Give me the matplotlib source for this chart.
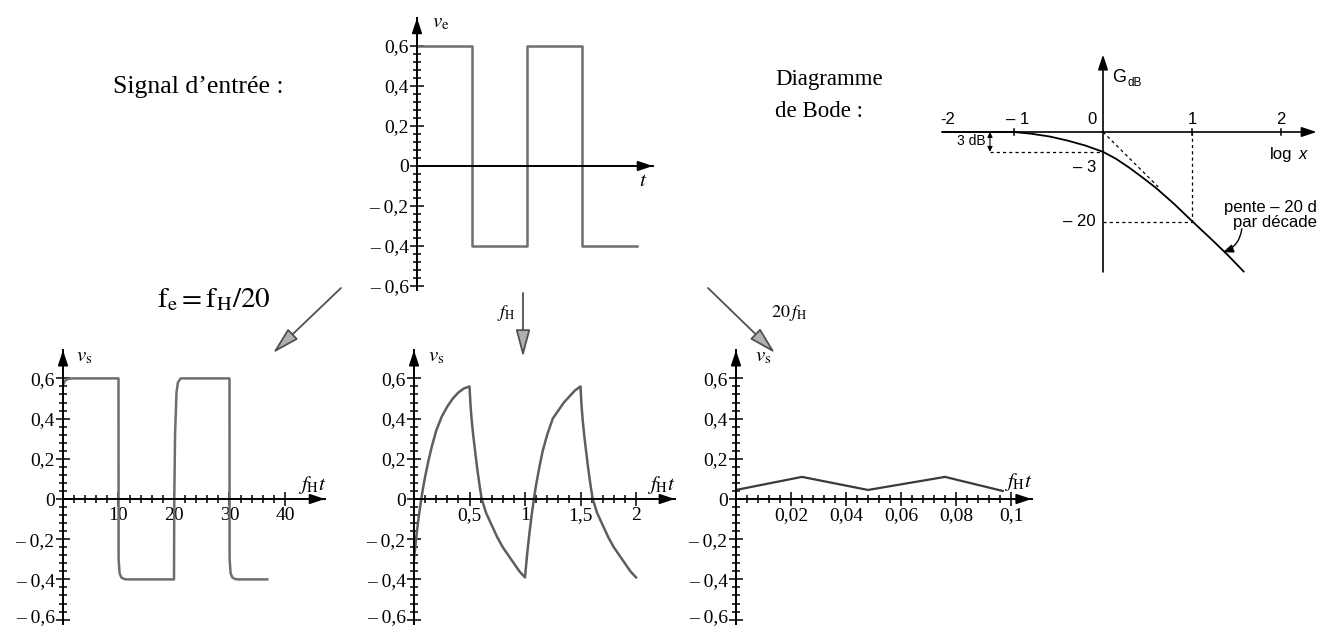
import matplotlib
matplotlib.use("Agg")
import numpy as np
import matplotlib.pyplot as plt
import matplotlib.transforms as mtransforms
from matplotlib.ticker import FixedLocator

plt.rcParams["font.family"] = ["Liberation Serif", "DejaVu Serif"]
plt.rcParams["mathtext.fontset"] = "stix"

W, H = 1334, 626

# input signal v_e (square wave)
ve_t = [0, 1, 1, 2, 2, 3, 3, 4]
ve_v = [0.6, 0.6, -0.4, -0.4, 0.6, 0.6, -0.4, -0.4]

# output for f_e = f_H/20
bl_t = [0, 0.2, 0.5, 1.0, 1.6, 10.0, 10.02, 10.2, 10.5, 11.0, 11.5,
        20.0, 20.05, 20.2, 20.45, 20.7, 21.2,
        30.0, 30.02, 30.2, 30.5, 31.0, 31.5, 36.8]
bl_v = [0.565, 0.58, 0.592, 0.598, 0.6, 0.6, -0.3, -0.37, -0.39, -0.398, -0.4,
        -0.4, 0.0, 0.33, 0.53, 0.58, 0.6,
        0.6, -0.3, -0.37, -0.39, -0.398, -0.4, -0.4]

# output for f_e = f_H
mid_t = [0.00, 0.02, 0.04, 0.06, 0.08, 0.10, 0.13, 0.16, 0.20, 0.25, 0.30, 0.35, 0.40, 0.45, 0.50,
         0.51, 0.52, 0.535, 0.55, 0.57, 0.59, 0.61, 0.65, 0.70, 0.75, 0.80, 0.85, 0.90, 0.95, 1.00,
         1.02, 1.04, 1.06, 1.08, 1.10, 1.13, 1.16, 1.20, 1.25, 1.30, 1.35, 1.40, 1.45, 1.50,
         1.51, 1.52, 1.535, 1.55, 1.57, 1.59, 1.61, 1.65, 1.70, 1.75, 1.80, 1.85, 1.90, 1.95, 2.00]
mid_v = [-0.30, -0.19, -0.10, -0.02, 0.05, 0.11, 0.19, 0.26, 0.34, 0.41, 0.46, 0.50, 0.53, 0.55, 0.56,
         0.46, 0.39, 0.31, 0.24, 0.15, 0.07, 0.00, -0.07, -0.13, -0.19, -0.24, -0.28, -0.32, -0.36, -0.39,
         -0.27, -0.17, -0.08, 0.00, 0.07, 0.16, 0.24, 0.32, 0.40, 0.44, 0.48, 0.51, 0.54, 0.56,
         0.46, 0.39, 0.31, 0.24, 0.15, 0.07, 0.00, -0.07, -0.13, -0.19, -0.24, -0.28, -0.32, -0.36, -0.39]

# output for f_e = 20 f_H
r_t = [0, 0.024, 0.048, 0.076, 0.097]
r_v = [0.045, 0.11, 0.045, 0.11, 0.04]

# Bode diagram (log x, G_dB)
bode_x = [-1.8, -1.0, -0.8, -0.6, -0.4, -0.2, 0.0, 0.15, 0.3, 0.45, 0.6, 0.8, 1.0, 1.2, 1.4, 1.58]
bode_g = [0.0, 0.0, -0.4, -1.0, -1.9, -3.0, -4.4, -6.0, -8.0, -10.2, -12.5, -16.0, -19.8, -23.5, -27.3, -31.0]
bode_xlabels = ["-2", "\u2013 1", "0", "1", "2"]

y_ticks = [-0.6, -0.4, -0.2, 0, 0.2, 0.4, 0.6]
y_labels = ["\u2013 0,6", "\u2013 0,4", "\u2013 0,2", "0", "0,2", "0,4", "0,6"]

fig = plt.figure(figsize=(W / 100, H / 100), dpi=100)

# overlay in pixel coordinates for free texts and arrows
ov = fig.add_axes([0, 0, 1, 1])
ov.set_xlim(0, W)
ov.set_ylim(H, 0)
ov.axis("off")


def make_axes(ox, oy, sx, sy, xlim, ylim):
    left = ox + xlim[0] * sx
    right = ox + xlim[1] * sx
    top = oy - ylim[1] * sy
    bottom = oy - ylim[0] * sy
    ax = fig.add_axes([left / W, 1 - bottom / H, (right - left) / W, (bottom - top) / H])
    ax.set_xlim(xlim)
    ax.set_ylim(ylim)
    ax.patch.set_visible(False)
    return ax


def signal_axes(ox, oy, sx, xlim, xticks, xlabels, xminor, sy=201, lift_low=True):
    ax = make_axes(ox, oy, sx, sy, xlim, (-0.62, 0.74))
    ax.spines["top"].set_visible(False)
    ax.spines["right"].set_visible(False)
    ax.spines["left"].set_position(("data", 0))
    ax.spines["bottom"].set_position(("data", 0))
    ax.spines["left"].set_linewidth(1.4)
    ax.spines["bottom"].set_linewidth(1.4)
    ax.set_yticks(y_ticks)
    ax.set_yticklabels(y_labels, fontsize=14)
    ax.yaxis.set_minor_locator(FixedLocator(np.arange(-0.6, 0.61, 0.04)))
    ax.set_xticks(xticks)
    ax.set_xticklabels(xlabels, fontsize=14)
    ax.xaxis.set_minor_locator(FixedLocator(xminor))
    ax.tick_params(which="major", direction="inout", length=10, width=1.1, pad=1)
    ax.tick_params(which="minor", direction="inout", length=6, width=1.1)
    ax.tick_params(axis="x", pad=1)
    if lift_low:
        # lift the lowest label a little so it stays inside the figure
        lab = ax.yaxis.get_major_ticks()[0].label1
        lab.set_transform(lab.get_transform() + mtransforms.ScaledTranslation(0, 3 / 72, fig.dpi_scale_trans))
    x1 = xlim[1]
    ax.annotate("", xy=(x1, 0), xytext=(x1 * 0.97, 0), annotation_clip=False,
                arrowprops=dict(arrowstyle="-|>,head_length=0.9,head_width=0.3",
                                color="k", lw=1.3, shrinkA=0, shrinkB=0))
    ax.annotate("", xy=(0, 0.74), xytext=(0, 0.70), annotation_clip=False,
                arrowprops=dict(arrowstyle="-|>,head_length=0.9,head_width=0.3",
                                color="k", lw=1.3, shrinkA=0, shrinkB=0))
    return ax


# top: input signal
ax_top = signal_axes(417, 166, 55, (0, 4.29), [], [], [], sy=200, lift_low=False)
ax_top.plot(ve_t, ve_v, color="#6e6e6e", lw=1.8)
ax_top.text(0.27, 0.715, r"$v_\mathrm{e}$", fontsize=15, va="center")
ax_top.text(4.11, -0.08, r"$t$", fontsize=15, va="center", ha="center")

# bottom left
ax1 = signal_axes(63, 499, 5.55, (0, 47.2), [10, 20, 30, 40], ["10", "20", "30", "40"],
                  np.arange(0, 40.1, 2))
ax1.plot(bl_t, bl_v, color="#6e6e6e", lw=1.8)
ax1.text(2.3, 0.706, r"$v_\mathrm{s}$", fontsize=15, va="center")
ax1.text(44.9, 0.07, r"$f_\mathrm{H}t$", fontsize=15, va="center", ha="center")

# bottom middle
ax2 = signal_axes(414, 499, 111, (0, 2.35), [0.5, 1, 1.5, 2], ["0,5", "1", "1,5", "2"],
                  np.arange(0, 2.01, 0.1))
ax2.plot(mid_t, mid_v, color="#5e5e5e", lw=1.8)
ax2.text(0.126, 0.706, r"$v_\mathrm{s}$", fontsize=15, va="center")
ax2.text(2.23, 0.07, r"$f_\mathrm{H}t$", fontsize=15, va="center", ha="center")

# bottom right
ax3 = signal_axes(736, 499, 2750, (0, 0.1075), [0.02, 0.04, 0.06, 0.08, 0.1],
                  ["0,02", "0,04", "0,06", "0,08", "0,1"], np.arange(0, 0.1001, 0.004))
ax3.plot(r_t, r_v, color="#3a3a3a", lw=1.6)
ax3.text(0.0069, 0.706, r"$v_\mathrm{s}$", fontsize=15, va="center")
ax3.text(0.1025, 0.085, r"$f_\mathrm{H}t$", fontsize=15, va="center", ha="center")

# Bode diagram
axb = make_axes(1103, 132, 89, 4.5, (-1.81, 2.40), (-31.5, 17.5))
axb.axis("off")
sans = ["Liberation Sans", "DejaVu Sans"]
axb.annotate("", xy=(2.40, 0), xytext=(-1.81, 0), annotation_clip=False,
             arrowprops=dict(arrowstyle="-|>,head_length=0.9,head_width=0.3",
                             color="k", lw=1.2, shrinkA=0, shrinkB=0))
axb.annotate("", xy=(0, 17.2), xytext=(0, -31.1), annotation_clip=False,
             arrowprops=dict(arrowstyle="-|>,head_length=0.9,head_width=0.3",
                             color="k", lw=1.2, shrinkA=0, shrinkB=0))
axb.plot(bode_x, bode_g, color="k", lw=1.3, clip_on=False)
for xt in [-1, 1, 2]:
    axb.plot([xt, xt], [-0.6, 0.6], color="k", lw=1.1)
dash = (0, (2.5, 2.5))
axb.plot([0, 0.62], [0, -12.2], color="k", lw=0.9, ls=dash)
axb.plot([-1.27, 0], [-4.4, -4.4], color="k", lw=0.9, ls=dash)
axb.plot([1.0, 1.0], [0, -20], color="k", lw=0.9, ls=dash)
axb.plot([0, 1.0], [-20, -20], color="k", lw=0.9, ls=dash)
axb.annotate("", xy=(-1.27, -4.4), xytext=(-1.27, 0),
             arrowprops=dict(arrowstyle="<|-|>,head_length=0.3,head_width=0.15",
                             color="k", lw=0.8, shrinkA=0, shrinkB=0))
for pos, lab in zip([-1.75, -0.955, -0.12, 1.0, 2.0], bode_xlabels):
    axb.text(pos, 2.8, lab, fontsize=12, family=sans, ha="center", va="center")
axb.text(-1.32, -1.9, "3 dB", fontsize=10, family=sans, ha="right", va="center")
axb.text(-0.08, -8.0, "\u2013 3", fontsize=12, family=sans, ha="right", va="center")
axb.text(-0.08, -20.0, "\u2013 20", fontsize=12, family=sans, ha="right", va="center")
axb.text(1.88, -5.1, "log", fontsize=12, family=sans, ha="left", va="center")
axb.text(2.20, -5.1, "x", fontsize=12, family=sans, style="italic", ha="left", va="center")
axb.text(0.1, 12, "G", fontsize=13, family=sans, ha="left", va="center")
axb.text(0.27, 10.8, "dB", fontsize=8.5, family=sans, ha="left", va="center")
axb.text(2.40, -16.7, "pente \u2013 20 d", fontsize=12, family=sans, ha="right", va="center")
axb.text(2.40, -20.2, "par d\u00e9cade", fontsize=12, family=sans, ha="right", va="center")
axb.annotate("", xy=(1.35, -26.7), xytext=(1.56, -21.5),
             arrowprops=dict(arrowstyle="-|>,head_length=0.6,head_width=0.25",
                             color="k", lw=1.0, shrinkA=0, shrinkB=0,
                             connectionstyle="arc3,rad=-0.3"))

# free texts
ov.text(113, 93, "Signal d\u2019entr\u00e9e :", fontsize=18.5, va="baseline")
ov.text(775, 85, "Diagramme", fontsize=16.5, va="baseline")
ov.text(775, 117, "de Bode :", fontsize=16.5, va="baseline")
ov.text(157, 307, r"$\mathrm{f_e = f_H/20}$", fontsize=21, va="baseline")
ov.text(516, 313, r"$f_\mathrm{H}$", fontsize=13, ha="right", va="center")
ov.text(771, 313, r"$20\,f_\mathrm{H}$", fontsize=13, ha="left", va="center")

# grey transition arrows
gprops = dict(arrowstyle="-|>,head_length=1.2,head_width=0.32", fc="#b0b0b0", ec="#505050",
              lw=1.3, shrinkA=0, shrinkB=0, mutation_scale=14)
ov.annotate("", xy=(273, 353), xytext=(341, 288), arrowprops=gprops)
ov.annotate("", xy=(523, 357), xytext=(523, 293), arrowprops=gprops)
ov.annotate("", xy=(775, 353), xytext=(708, 288), arrowprops=gprops)

fig.savefig("out.png", dpi=100)
